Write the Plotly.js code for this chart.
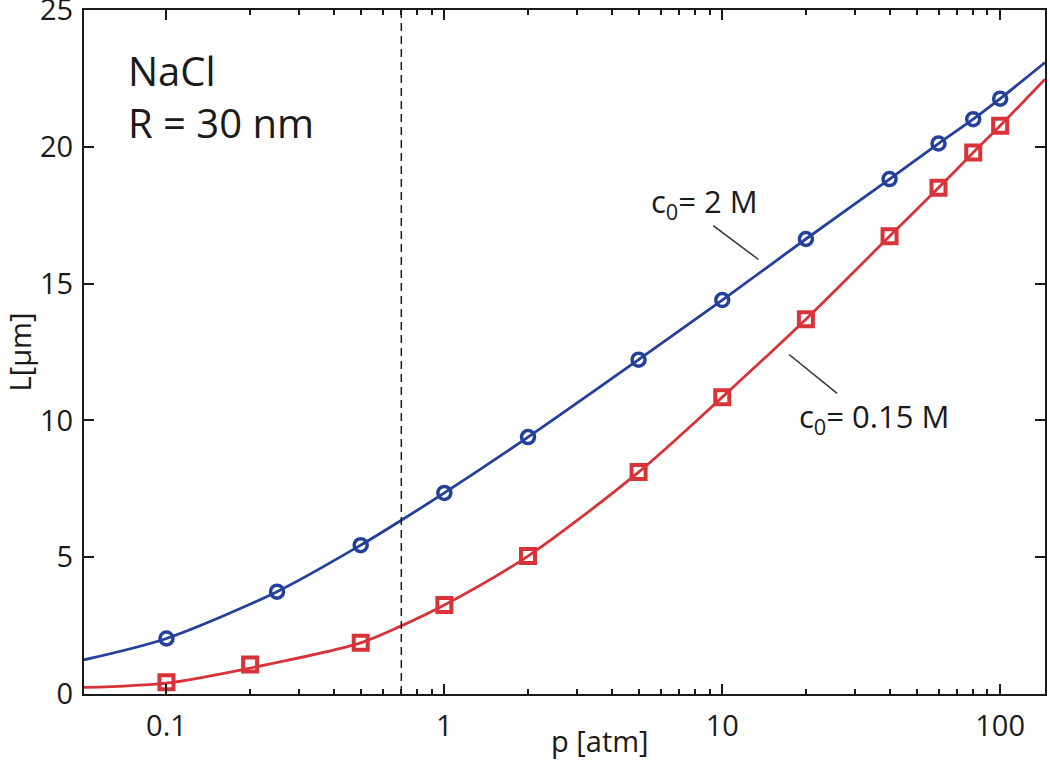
<!DOCTYPE html>
<html>
<head>
<meta charset="utf-8">
<script src="https://cdn.plot.ly/plotly-3.0.1.min.js"></script>
<style>html,body{margin:0;padding:0;background:#fff;}#chart{width:1050px;height:762px;}</style>
</head>
<body>
<div id="chart"></div>
<script>
// ---- data ----
// c0 = 2 M (blue circles)
const p2M = [0.1, 0.25, 0.5, 1, 2, 5, 10, 20, 40, 60, 80, 100];
const L2M = [2.03, 3.74, 5.44, 7.35, 9.39, 12.22, 14.40, 16.63, 18.82, 20.12, 21.01, 21.76];
// c0 = 0.15 M (red squares)
const p015M = [0.1, 0.2, 0.5, 1, 2, 5, 10, 20, 40, 60, 80, 100];
const L015M = [0.43, 1.08, 1.87, 3.25, 5.04, 8.11, 10.85, 13.70, 16.73, 18.50, 19.79, 20.77];
// model curves
const curveP2M = [0.0505, 0.1, 0.25, 0.5, 0.7, 1, 2, 5, 10, 20, 40, 60, 80, 100, 145];
const curveL2M = [1.25, 2.03, 3.74, 5.44, 6.35, 7.35, 9.39, 12.22, 14.40, 16.63, 18.82, 20.12, 21.01, 21.76, 23.08];
const curveP015M = [0.0505, 0.1, 0.2, 0.5, 0.7, 1, 2, 5, 10, 20, 40, 60, 80, 100, 145];
const curveL015M = [0.24, 0.40, 0.95, 1.87, 2.49, 3.25, 5.04, 8.11, 10.85, 13.70, 16.73, 18.50, 19.79, 20.77, 22.47];
// axes
const xRange = [0.0505, 145];
const yRange = [0, 25];
const xMajorTicks = [0.1, 1, 10, 100];
const xMajorLabels = ['0.1', '1', '10', '100'];
const xMinorTicks = [0.2,0.3,0.4,0.5,0.6,0.7,0.8,0.9, 2,3,4,5,6,7,8,9, 20,30,40,50,60,70,80,90];
const yTicks = [0, 5, 10, 15, 20, 25];
const thresholdP = 0.7;
// labels
const seriesNames = ['c<sub>0</sub>= 2 M', 'c<sub>0</sub>= 0.15 M'];
const xTitle = 'p [atm]';
const yTitle = 'L[μm]';
const infoLines = ['NaCl', 'R = 30 nm'];
// leader lines: [p0, L0, p1, L1]
const leader2M = [9.28, 17.12, 13.5, 15.88];
const leader015M = [17.4, 12.41, 25.9, 10.99];

const blue = '#23409a';
const red = '#d83338';
const ink = '#1a1a1a';
const FONT = 'Open Sans, sans-serif';
const lg = Math.log10;

const traces = [
  {x: curveP2M, y: curveL2M, mode: 'lines', line: {color: blue, width: 2.8, shape: 'spline', smoothing: 0.8}, showlegend: false, hoverinfo: 'skip'},
  {x: curveP015M, y: curveL015M, mode: 'lines', line: {color: red, width: 2.8, shape: 'spline', smoothing: 0.8}, showlegend: false, hoverinfo: 'skip'},
  {x: p2M, y: L2M, mode: 'markers', name: seriesNames[0], marker: {symbol: 'circle-open', size: 13, color: blue, line: {width: 3.5, color: blue}}, showlegend: false},
  {x: p015M, y: L015M, mode: 'markers', name: seriesNames[1], marker: {symbol: 'square-open', size: 14, color: red, line: {width: 4, color: red}}, showlegend: false}
];

const axisCommon = {
  showline: true, linecolor: ink, linewidth: 2, mirror: 'ticks',
  ticks: 'inside', ticklen: 10, tickwidth: 2, tickcolor: ink,
  showgrid: false, zeroline: false, ticklabeloverflow: 'allow',
  tickfont: {family: FONT, size: 29, color: ink}
};

const layout = {
  width: 1050, height: 762,
  margin: {l: 84, r: 5, t: 10, b: 68},
  paper_bgcolor: '#fff', plot_bgcolor: '#fff',
  showlegend: false,
  xaxis: Object.assign({}, axisCommon, {
    type: 'log', range: [lg(xRange[0]), lg(xRange[1])],
    tickmode: 'array', tickvals: xMajorTicks, ticktext: xMajorLabels,
    ticklabelstandoff: 5,
    minor: {tickmode: 'array', tickvals: xMinorTicks, ticks: 'inside', ticklen: 5, tickwidth: 2, tickcolor: ink, showgrid: false}
  }),
  yaxis: Object.assign({}, axisCommon, {
    range: yRange, tickmode: 'array', tickvals: yTicks,
    ticklabelstandoff: 3,
    title: {text: yTitle, font: {family: FONT, size: 29, color: ink}, standoff: 0}
  }),
  shapes: [
    {type: 'line', xref: 'x', yref: 'y', x0: thresholdP, x1: thresholdP, y0: yRange[0], y1: yRange[1],
     line: {color: ink, width: 1.5, dash: '8px,5px'}},
    {type: 'line', xref: 'x', yref: 'y', x0: leader2M[0], y0: leader2M[1], x1: leader2M[2], y1: leader2M[3],
     line: {color: '#333', width: 1.5}},
    {type: 'line', xref: 'x', yref: 'y', x0: leader015M[0], y0: leader015M[1], x1: leader015M[2], y1: leader015M[3],
     line: {color: '#333', width: 1.5}}
  ],
  annotations: [
    {text: infoLines[0], xref: 'paper', yref: 'paper', x: 0.044, y: 0.911, xanchor: 'left', yanchor: 'middle', showarrow: false,
     font: {family: FONT, size: 40, color: ink}},
    {text: infoLines[1], xref: 'paper', yref: 'paper', x: 0.044, y: 0.836, xanchor: 'left', yanchor: 'middle', showarrow: false,
     font: {family: FONT, size: 40, color: ink}},
    {text: seriesNames[0], xref: 'paper', yref: 'paper', x: 0.588, y: 0.718, xanchor: 'left', yanchor: 'middle', showarrow: false,
     font: {family: FONT, size: 31, color: ink}},
    {text: seriesNames[1], xref: 'paper', yref: 'paper', x: 0.742, y: 0.404, xanchor: 'left', yanchor: 'middle', showarrow: false,
     font: {family: FONT, size: 31, color: ink}},
    {text: xTitle, xref: 'paper', yref: 'paper', x: 0.537, y: 0, yshift: -46, xanchor: 'center', yanchor: 'middle', showarrow: false,
     font: {family: FONT, size: 29, color: ink}}
  ]
};

Plotly.newPlot('chart', traces, layout, {displayModeBar: false, staticPlot: true});
</script>
</body>
</html>
